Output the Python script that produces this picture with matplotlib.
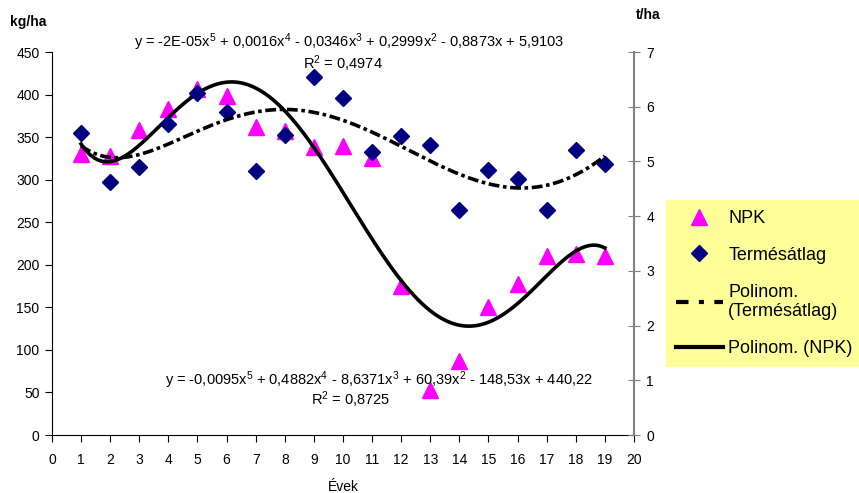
import numpy as np
import matplotlib
matplotlib.use("Agg")
import matplotlib.pyplot as plt
from matplotlib.lines import Line2D

plt.rcParams['font.family'] = ['Liberation Sans', 'DejaVu Sans']
plt.rcParams['mathtext.default'] = 'regular'

# data
evek = list(range(1, 20))
npk = [330, 328, 358, 383, 407, 398, 362, 357, 338, 340, 325, 175, 53, 87, 150, 177, 210, 213, 210]  # kg/ha
termes = [5.52, 4.62, 4.90, 5.68, 6.25, 5.91, 4.82, 5.49, 6.55, 6.16, 5.18, 5.46, 5.30, 4.11, 4.84,
          4.67, 4.12, 5.21, 4.95]  # t/ha

x_ticks = list(range(0, 21))
left_ticks = list(range(0, 451, 50))
right_ticks = list(range(0, 8))

eq_termes = 'y = -2E-05x$^5$ + 0,0016x$^4$ - 0,0346x$^3$ + 0,2999x$^2$ - 0,8873x + 5,9103'
r2_termes = 'R$^2$ = 0,4974'
eq_npk = 'y = -0,0095x$^5$ + 0,4882x$^4$ - 8,6371x$^3$ + 60,39x$^2$ - 148,53x + 440,22'
r2_npk = 'R$^2$ = 0,8725'

# 5th order polynomial trend lines (like Excel)
xs = np.linspace(1, 19, 300)
fit_npk = np.polyval(np.polyfit(evek, npk, 5), xs)
fit_termes = np.polyval(np.polyfit(evek, termes, 5), xs)

fig = plt.figure(figsize=(8.59, 4.93), dpi=100)
ax = fig.add_axes([0.0605, 0.1176, 0.6775, 0.7769])
ax2 = ax.twinx()

ax.plot(evek, npk, linestyle='none', marker='^', color='#FF00FF', markersize=11, zorder=3)
ax.plot(xs, fit_npk, color='black', linewidth=2.6, zorder=4)
ax2.plot(evek, termes, linestyle='none', marker='D', color='#000080', markersize=8.5, zorder=3)
ax2.plot(xs, fit_termes, color='black', linewidth=2.6, dashes=(3, 1, 1, 1), zorder=4)

ax.set_xlim(0, 20)
ax.set_ylim(0, 450)
ax2.set_ylim(0, 7)
ax.set_xticks(x_ticks)
ax.set_yticks(left_ticks)
ax2.set_yticks(right_ticks)

for a in (ax, ax2):
    a.spines['top'].set_visible(False)
ax.spines['right'].set_visible(False)
ax2.spines['left'].set_visible(False)
ax2.spines['bottom'].set_visible(False)
ax2.spines['right'].set_color('#808080')
ax2.spines['right'].set_linewidth(1.5)
ax.tick_params(direction='out', length=5, labelsize=10, pad=4)
ax2.tick_params(direction='inout', length=8, labelsize=10, pad=5, color='#808080')
ax.tick_params(axis='x', pad=8)

ax.set_xlabel('Évek', fontsize=10, labelpad=9)
fig.text(10 / 859, 1 - 22 / 493, 'kg/ha', fontsize=10, fontweight='bold', va='center')
fig.text(636 / 859, 1 - 15 / 493, 't/ha', fontsize=10, fontweight='bold', va='center')

fig.text(349 / 859, 1 - 42 / 493, eq_termes, fontsize=10.5, ha='center', va='center')
fig.text(343 / 859, 1 - 64 / 493, r2_termes, fontsize=10.5, ha='center', va='center')
fig.text(379 / 859, 1 - 380 / 493, eq_npk, fontsize=10.5, ha='center', va='center')
fig.text(351 / 859, 1 - 400 / 493, r2_npk, fontsize=10.5, ha='center', va='center')

handles = [
    Line2D([], [], linestyle='none', marker='^', color='#FF00FF', markersize=11),
    Line2D([], [], linestyle='none', marker='D', color='#000080', markersize=8.5),
    Line2D([], [], color='black', linewidth=3, dashes=(3, 2.5, 1.2, 2.5)),
    Line2D([], [], color='black', linewidth=3),
]
labels = ['NPK', 'Termésátlag', 'Polinom.\n(Termésátlag)', 'Polinom. (NPK)']
leg = fig.legend(handles, labels, loc='upper left', bbox_to_anchor=(666 / 859, 1 - 200 / 493),
                 fontsize=13, frameon=True, fancybox=False, handlelength=2.6, handletextpad=0.3,
                 labelspacing=1.1, borderpad=0.55, borderaxespad=0)
leg.get_frame().set_facecolor('#FFFF99')
leg.get_frame().set_edgecolor('none')
leg.get_frame().set_alpha(1)

fig.savefig('out.png', dpi=100)
